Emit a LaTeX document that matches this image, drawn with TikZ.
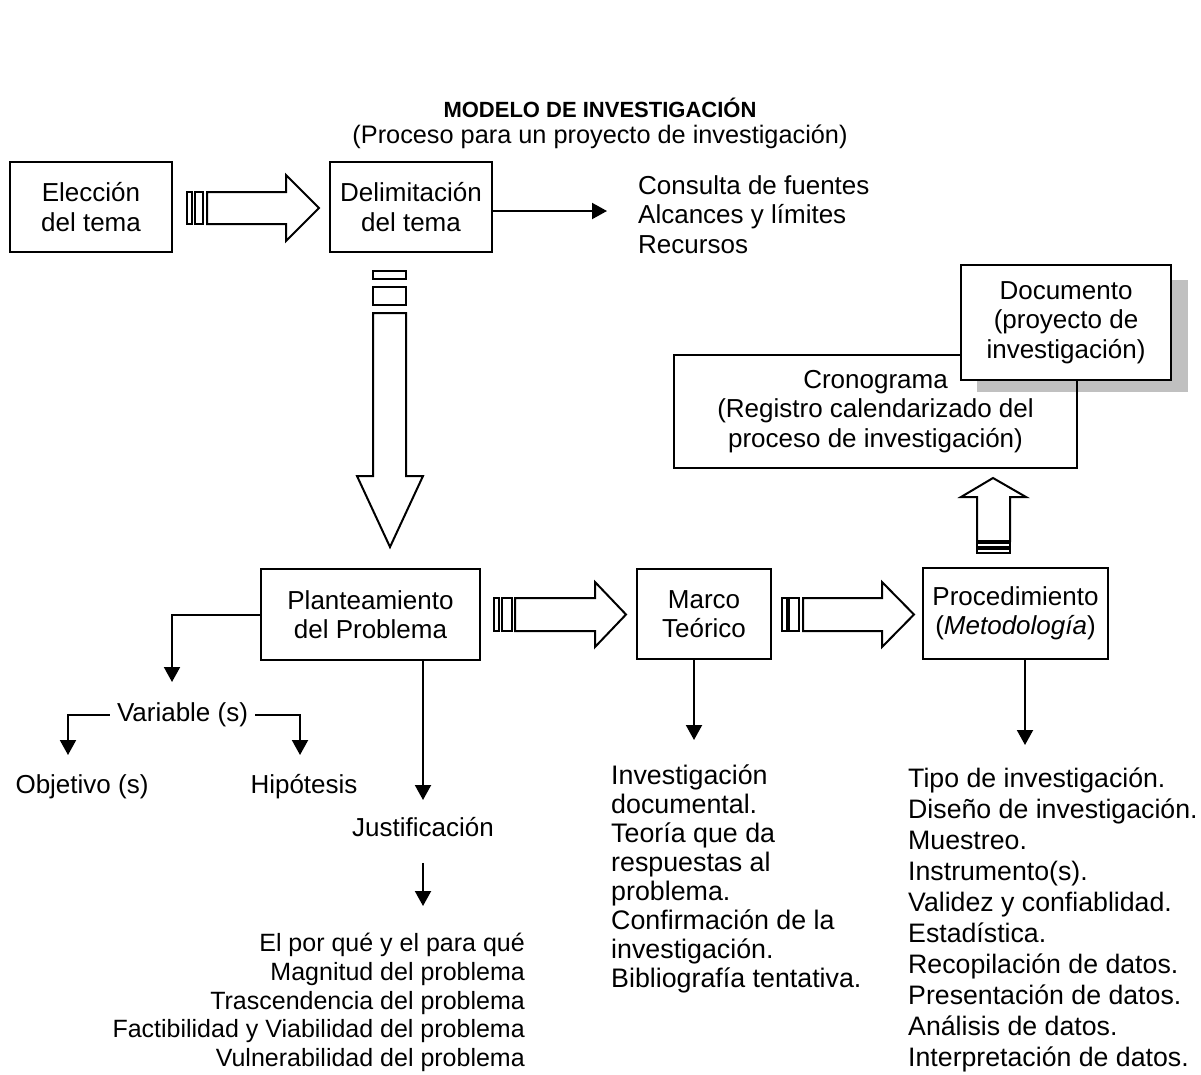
\documentclass[tikz,border=0pt]{standalone}
\usepackage{fontspec}
\setmainfont{Liberation Sans}
\usetikzlibrary{arrows.meta,positioning}

\definecolor{sombra}{RGB}{192,192,192}

\tikzset{
  letra/.style={font=\fontsize{26}{29.5}\selectfont},
  caja/.style={draw, line width=2pt, align=center, inner sep=0pt, letra},
  texto/.style={inner sep=0pt, align=left, letra},
  flecha/.style={line width=2pt, -{Triangle[length=15pt,width=16pt]}},
  gruesa/.style={draw, line width=2pt, fill=white, line join=miter},
  raya/.style={draw, line width=1.5pt},
}

\begin{document}
\begin{tikzpicture}[x=1pt, y=-1pt]
\useasboundingbox (0,0) rectangle (1201,1074);

% titulo
\node[texto, font=\fontsize{22}{26}\selectfont\bfseries] (titulo) at (600,108) {MODELO DE INVESTIGACIÓN};
\node[texto, font=\fontsize{25.3}{29}\selectfont] (subtitulo) at (600,137) {(Proceso para un proyecto de investigación)};

% cajas
\node[caja, minimum width=162pt, minimum height=90pt] (eleccion) at (91,207) {Elección\\del tema};
\node[caja, minimum width=162pt, minimum height=90pt] (delimitacion) at (411,207) {Delimitación\\del tema};
\node[caja, minimum width=219pt, minimum height=91pt] (planteamiento) at (370.5,614.5) {Planteamiento\\del Problema};
\node[caja, minimum width=134pt, minimum height=90pt] (marco) at (704,614) {Marco\\Teórico};
\node[caja, minimum width=185pt, minimum height=91pt] (procedimiento) at (1015.5,613.5) {Procedimiento\\(\textit{Metodología})};

% cronograma y documento
\coordinate (docnw) at (961,265);
\coordinate (docse) at (1171,380);
\fill[sombra] ([shift={(16,15)}]docnw) rectangle ([shift={(17,12)}]docse);
\node[caja, minimum width=403pt, minimum height=113pt] (cronograma) at (875.5,411.5) {\rule{0pt}{8pt}Cronograma\\(Registro calendarizado del\\proceso de investigación)};
\node[caja, fill=white, minimum width=210pt, minimum height=115pt] (documento) at (1066,322.5) {Documento\\(proyecto de\\investigación)};

% listas
\node[texto, anchor=north west] (fuentes) at (638,175) {Consulta de fuentes\\Alcances y límites\\Recursos};
\node[texto, inner xsep=7pt] (variable) at (182.5,715) {Variable (s)};
\node[texto] (objetivo) at (82,787) {Objetivo (s)};
\node[texto] (hipotesis) at (304,787) {Hipótesis};
\node[texto] (justificacion) at (423,827) {Justificación};
\node[texto, anchor=north east, align=right, font=\fontsize{25}{28.75}\selectfont] (razones) at (525,933) {El por qué y el para qué\\Magnitud del problema\\Trascendencia del problema\\Factibilidad y Viabilidad del problema\\Vulnerabilidad del problema};
\node[texto, anchor=north west, font=\fontsize{26.8}{29}\selectfont] (teoria) at (611,765) {Investigación\\documental.\\Teoría que da\\respuestas al\\problema.\\Confirmación de la\\investigación.\\Bibliografía tentativa.};
\node[texto, anchor=north west, font=\fontsize{26.7}{31}\selectfont] (metodo) at (908,768) {Tipo de investigación.\\Diseño de investigación.\\Muestreo.\\Instrumento(s).\\Validez y confiablidad.\\Estadística.\\Recopilación de datos.\\Presentación de datos.\\Análisis de datos.\\Interpretación de datos.};

% flechas huecas
\draw[raya] (187,192) rectangle (192,224);
\draw[raya] (195,192) rectangle (203,224);
\draw[gruesa] (207,192) -- (286,192) -- (286,175) -- (319,208) -- (286,241) -- (286,224) -- (207,224) -- cycle;

\draw[raya] (373,271) rectangle (406,279);
\draw[raya] (373,287) rectangle (406,305);
\draw[gruesa] (373,313) -- (373,476) -- (357,476) -- (390,547) -- (423,476) -- (406,476) -- (406,313) -- cycle;

\draw[raya] (494,598) rectangle (499,631);
\draw[raya] (502,598) rectangle (512,631);
\draw[gruesa] (515,598) -- (595,598) -- (595,582) -- (626,614.5) -- (595,647) -- (595,631) -- (515,631) -- cycle;

\draw[raya] (782,598) rectangle (787,631);
\draw[raya] (789,598) rectangle (799,631);
\draw[gruesa] (803,598) -- (882,598) -- (882,582) -- (914,614.5) -- (882,647) -- (882,631) -- (803,631) -- cycle;

\draw[raya] (977,549) rectangle (1010,553);
\draw[raya] (977,543) rectangle (1010,547);
\draw[gruesa] (977,541) -- (977,497) -- (961,497) -- (993,478) -- (1026,497) -- (1010,497) -- (1010,541) -- cycle;

% conectores
\coordinate (f1) at (607,211);
\draw[flecha] (delimitacion.east |- f1) -- (f1);
\coordinate (v1) at (172,682);
\draw[flecha] (planteamiento.west) -| (v1);
\coordinate (o1) at (68,755);
\coordinate (h1) at (300,755);
\draw[flecha] (variable.west) -| (o1);
\draw[flecha] (variable.east) -| (h1);
\coordinate (j1) at (423,800);
\draw[flecha] (planteamiento.south -| j1) -- (j1);
\coordinate (j2) at (423,906);
\draw[flecha, shorten <=26pt] (justificacion.south) -- (j2);
\coordinate (m1) at (694,740);
\draw[flecha] (marco.south -| m1) -- (m1);
\coordinate (p1) at (1025,745);
\draw[flecha] (procedimiento.south -| p1) -- (p1);
\end{tikzpicture}
\end{document}
